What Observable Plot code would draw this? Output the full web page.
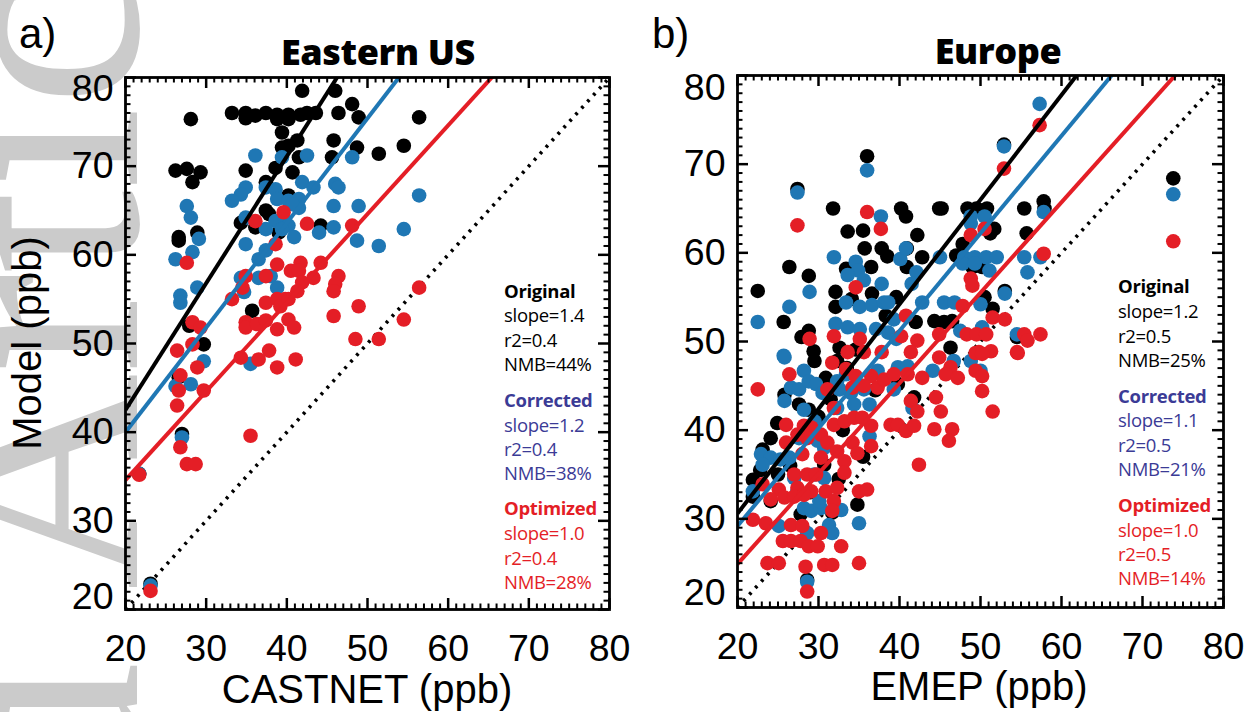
<!DOCTYPE html>
<html><head><meta charset="utf-8">
<script src="https://cdn.jsdelivr.net/npm/d3@7"></script>
<script src="https://cdn.jsdelivr.net/npm/@observablehq/plot@0.6"></script>
<style>
html,body{margin:0;padding:0;background:#fff;}
#page{position:relative;width:1247px;height:712px;overflow:hidden;}
#page svg{position:absolute;}
</style></head><body><div id="page"></div>
<script>
// ---------- DATA ----------
const axisDomain = [20, 80];
const majorTicks = [20, 30, 40, 50, 60, 70, 80];
const minorTicks = d3.range(20, 81, 1);
const panelLetters = ["a)", "b)"];
const panelTitles = ["Eastern US", "Europe"];
const xTitles = ["CASTNET (ppb)", "EMEP (ppb)"];
const yTitle = "Model (ppb)";
const seriesNames = ["Original", "Corrected", "Optimized"];

// Eastern US: [CASTNET obs, model]
const eusOriginal = [[41.9,78.5],[46.0,78.5],[28.1,75.3],[33.2,76.0],[34.9,76.0],[34.9,75.4],[36.1,75.7],[37.4,76.0],[38.8,75.8],[38.8,75.3],[40.2,75.8],[40.2,75.3],[41.7,75.8],[42.5,76.0],[43.6,76.0],[48.1,77.0],[46.4,76.0],[48.9,75.5],[56.4,75.5],[39.4,73.8],[45.8,72.9],[41.3,72.9],[39.4,72.1],[40.2,72.3],[41.5,71.0],[45.6,71.0],[48.7,72.1],[51.4,71.4],[54.5,72.3],[26.2,69.5],[27.6,69.7],[29.3,69.3],[28.3,68.2],[34.9,69.5],[38.6,69.8],[40.7,69.3],[37.4,68.2],[40.2,66.7],[37.4,65.0],[37.8,64.6],[34.3,63.6],[36.1,63.1],[44.2,63.3],[39.0,62.5],[26.6,62.0],[26.6,61.6],[28.9,62.5],[35.7,53.7],[27.9,52.0],[29.7,49.9],[26.6,46.2],[27.0,39.8],[21.7,35.3],[23.1,22.9]];
const eusCorrected = [[36.1,71.2],[39.4,71.0],[42.5,71.2],[48.1,71.0],[34.9,67.6],[34.3,66.8],[33.2,66.1],[37.4,67.6],[38.6,67.4],[41.9,68.2],[43.3,67.6],[46.0,68.0],[46.4,67.6],[27.6,65.5],[28.1,64.2],[38.8,66.3],[40.2,66.1],[41.5,66.3],[41.5,65.3],[40.7,65.7],[45.8,65.5],[48.9,65.5],[34.9,64.2],[38.6,63.8],[39.8,63.8],[40.2,63.3],[39.4,62.9],[37.4,62.9],[40.9,62.0],[44.0,62.5],[45.8,63.1],[29.1,61.8],[28.3,60.3],[26.2,59.5],[34.9,61.2],[48.7,61.6],[51.4,61.0],[54.5,62.9],[56.4,66.7],[36.5,59.5],[37.4,60.5],[34.3,57.4],[36.5,57.4],[38.0,57.6],[38.8,56.3],[28.9,56.3],[26.8,55.4],[26.8,54.6],[34.7,55.8],[29.7,48.0],[35.5,47.7],[26.2,45.2],[28.1,45.4],[27.0,39.4],[21.7,35.3],[23.1,22.7]];
const eusOptimized = [[39.6,64.8],[36.1,63.8],[42.5,63.5],[48.1,63.3],[27.6,59.1],[38.6,61.2],[38.8,58.9],[41.7,59.1],[40.5,58.2],[41.5,58.2],[44.2,59.1],[43.3,57.4],[46.4,57.6],[46.0,56.7],[45.8,55.9],[34.9,57.6],[37.4,57.6],[41.9,56.9],[41.3,55.9],[34.5,56.3],[33.2,55.0],[37.4,54.6],[38.8,55.0],[39.8,55.0],[39.2,54.2],[40.2,55.0],[48.9,54.2],[45.8,53.1],[56.4,56.3],[54.5,52.7],[34.9,52.4],[34.9,51.8],[36.3,52.2],[37.4,52.6],[40.2,52.7],[38.8,51.6],[40.9,51.8],[28.3,52.4],[29.3,51.8],[28.3,49.9],[26.4,49.2],[34.3,48.4],[36.5,48.2],[37.8,49.2],[41.1,48.2],[38.8,47.3],[28.9,47.3],[48.5,50.5],[51.4,50.5],[26.8,46.4],[26.6,44.7],[29.7,44.7],[26.4,43.0],[35.5,39.6],[26.8,38.3],[27.6,36.4],[28.7,36.4],[21.7,35.2],[23.1,22.1]];

// Europe: [EMEP obs, model]
const eurOriginal = [[36.0,70.9],[27.4,67.2],[31.8,65.0],[40.2,65.0],[40.8,64.1],[44.9,65.0],[45.2,65.0],[48.4,65.0],[49.5,65.0],[50.8,65.0],[55.4,65.0],[57.8,65.8],[57.9,65.0],[52.9,72.2],[73.8,68.4],[33.6,62.4],[35.5,62.5],[42.2,62.0],[37.8,60.5],[38.5,59.6],[35.7,60.5],[42.8,59.5],[40.9,60.5],[36.5,58.4],[33.4,58.2],[40.9,58.4],[47.0,59.7],[47.8,61.0],[51.7,62.7],[51.2,62.2],[55.7,62.2],[50.2,58.4],[49.0,58.4],[26.4,58.4],[28.8,57.4],[22.5,55.7],[25.7,52.2],[28.8,51.2],[27.9,50.5],[32.1,55.6],[32.1,53.9],[34.1,54.8],[36.6,55.4],[39.6,55.0],[38.3,52.9],[42.0,52.2],[44.3,52.3],[45.5,52.2],[46.5,52.3],[50.5,55.0],[51.5,53.7],[53.0,55.7],[46.3,49.3],[29.4,48.9],[32.6,49.3],[34.6,49.1],[54.5,50.5],[25.8,44.0],[27.6,42.9],[28.8,42.3],[24.9,40.8],[24.1,39.1],[23.1,37.8],[21.9,34.4],[21.9,32.5],[24.1,32.0],[34.8,31.6],[31.7,30.7],[30.7,36.1],[27.8,30.5],[41.8,43.7],[28.6,23.1],[32.3,47.8],[29.5,47.8],[30.9,45.9],[39.8,45.2],[30.0,41.5],[31.5,43.5],[33.0,40.0],[26.5,36.0],[29.0,33.0],[32.5,34.5],[35.5,37.0],[37.0,44.5],[33.5,47.0],[22.8,35.5],[25.0,35.0]];
const eurCorrected = [[57.3,76.8],[52.9,72.0],[36.0,69.3],[27.4,66.8],[37.7,64.1],[73.8,66.6],[48.8,64.1],[50.5,64.1],[57.8,64.6],[31.9,59.5],[34.6,59.0],[34.9,58.0],[33.6,57.5],[35.6,56.9],[37.8,56.5],[40.1,59.3],[40.8,60.5],[42.1,57.8],[41.5,56.5],[45.0,59.5],[48.0,59.5],[49.3,59.5],[50.7,59.5],[52.0,59.5],[47.8,58.8],[49.3,58.8],[51.1,58.0],[55.4,59.5],[57.4,59.5],[55.8,57.8],[48.8,63.3],[53.0,55.4],[28.9,55.6],[26.4,53.9],[22.5,52.2],[33.4,54.4],[35.1,53.9],[36.6,54.1],[38.1,54.4],[38.6,54.4],[42.8,54.4],[45.5,54.4],[46.8,54.4],[50.0,54.2],[39.3,52.5],[32.1,52.0],[33.6,51.6],[35.1,51.4],[37.1,51.4],[38.6,51.0],[39.6,50.3],[47.5,51.2],[50.2,51.6],[54.5,50.8],[25.7,48.4],[25.8,48.2],[26.6,44.8],[27.6,44.6],[28.2,46.7],[28.8,45.5],[29.7,45.2],[30.5,44.2],[25.8,43.3],[28.2,42.3],[33.4,46.3],[32.6,44.6],[34.0,44.2],[35.6,44.6],[37.3,46.7],[39.8,47.1],[39.3,44.6],[41.6,42.5],[41.0,47.2],[44.1,46.7],[46.7,47.8],[48.8,47.8],[50.0,46.7],[29.9,38.8],[30.7,38.0],[29.5,41.0],[29.1,39.9],[27.6,39.1],[22.9,37.3],[24.1,36.9],[25.3,36.7],[26.4,36.9],[23.1,36.1],[21.9,33.1],[32.3,45.5],[32.3,42.5],[34.4,42.9],[36.3,42.9],[36.3,39.3],[30.7,34.6],[27.4,33.1],[28.2,31.2],[29.1,30.9],[30.3,31.2],[31.3,29.3],[31.7,28.4],[32.8,31.0],[35.0,29.5],[25.1,29.2],[28.6,28.4],[28.6,22.9],[30.1,32.0],[29.5,35.0],[27.0,34.6]];
const eurOptimized = [[57.3,74.4],[52.9,69.5],[36.0,64.6],[27.4,63.1],[37.7,62.7],[73.8,61.3],[48.8,62.0],[50.5,62.7],[57.8,59.9],[48.8,57.1],[49.0,56.3],[34.6,56.1],[47.8,54.0],[40.8,52.9],[51.5,52.7],[53.0,52.5],[31.9,50.6],[35.1,50.3],[40.2,50.6],[42.2,50.1],[44.9,50.8],[48.3,50.8],[49.5,50.8],[50.7,50.8],[55.4,50.8],[55.8,50.1],[57.4,50.8],[28.9,50.3],[33.6,48.8],[35.6,48.8],[37.8,48.8],[41.4,48.8],[44.9,48.2],[49.8,48.8],[51.3,48.9],[54.5,48.8],[22.5,44.6],[26.4,46.3],[31.7,47.6],[33.4,46.9],[34.6,46.1],[36.5,46.1],[31.1,44.6],[34.2,44.8],[35.6,45.0],[37.3,44.8],[38.1,45.7],[39.3,46.3],[41.0,46.3],[42.8,45.9],[41.4,43.3],[42.2,42.1],[44.5,43.7],[45.1,42.1],[46.3,47.1],[45.7,46.3],[47.2,45.9],[49.4,46.7],[50.2,46.1],[50.2,44.4],[51.5,42.1],[46.5,40.1],[46.1,38.8],[44.3,40.1],[42.4,36.1],[38.9,40.6],[39.8,40.6],[40.8,39.9],[41.8,40.5],[31.9,42.5],[31.9,40.6],[33.2,41.0],[34.4,41.4],[35.4,41.4],[36.5,40.5],[28.2,40.5],[29.1,40.3],[28.6,39.1],[27.4,39.5],[30.3,39.5],[31.1,38.6],[26.0,38.6],[26.0,40.6],[28.0,37.3],[30.3,36.9],[32.3,37.6],[33.2,36.5],[34.2,38.6],[34.8,37.4],[36.5,38.2],[27.0,35.0],[28.6,35.0],[29.7,35.0],[33.2,35.2],[23.1,33.9],[25.1,33.3],[27.4,33.5],[29.1,33.1],[24.1,32.2],[25.8,32.4],[27.0,32.5],[28.2,32.7],[30.9,33.1],[32.3,33.5],[31.9,32.0],[31.7,30.9],[35.0,33.1],[36.0,33.3],[21.9,29.9],[23.5,29.5],[26.6,29.3],[28.0,29.2],[30.3,28.4],[25.6,27.5],[26.6,27.5],[27.8,27.5],[28.8,26.9],[29.9,26.9],[32.8,26.9],[23.7,25.0],[25.1,25.0],[28.4,24.6],[30.7,24.8],[31.7,24.8],[35.0,25.0],[28.6,21.8],[54.6,48.7],[49.4,48.7],[50.2,48.6]];

// Regression fits: value at x = 20 and slope
const eusFitStart = [42.5, 40.0, 34.6];
const eusFitSlope = [1.43, 1.18, 1.00];
const eurFitStart = [30.6, 29.2, 24.9];
const eurFitSlope = [1.18, 1.10, 1.02];

// Statistics annotations
const eusStats = [["slope=1.4","r2=0.4","NMB=44%"],["slope=1.2","r2=0.4","NMB=38%"],["slope=1.0","r2=0.4","NMB=28%"]];
const eurStats = [["slope=1.2","r2=0.5","NMB=25%"],["slope=1.1","r2=0.5","NMB=21%"],["slope=1.0","r2=0.5","NMB=14%"]];

// ---------- STYLE ----------
const dotColors = ["#000000", "#1f77b4", "#e41e26"];
const headColors = ["#000000", "#3b3b96", "#e41e26"];
const sans = "'Liberation Sans', Arial, Helvetica, sans-serif";
const annoFont = "'Open Sans', 'Noto Sans', sans-serif";

const page = document.getElementById("page");

// watermark
const wm = d3.select(page).append("svg").attr("width",1247).attr("height",712).style("left","0px").style("top","0px");
wm.append("text").attr("transform","translate(137,590) rotate(-90)").attr("font-family","'Liberation Serif', serif")
  .attr("font-size",300).attr("fill","#cbcbcb").text("Article");
wm.append("text").attr("transform","translate(137,662) rotate(-90)").attr("text-anchor","end").attr("font-family","'Liberation Serif', serif")
  .attr("font-size",300).attr("fill","#cbcbcb").text("Accepted");

function makePanel(cfg) {
  const {W, H, mL, mT, mR, mB, series, starts, slopes, yTopDy, yBotDy} = cfg;
  const innerW = W - mL - mR, innerH = H - mT - mB;
  const fits = starts.map((s, i) => ({i, y1: s, y2: s + slopes[i] * (axisDomain[1] - axisDomain[0])}));
  const minor = minorTicks.filter(t => !majorTicks.includes(t));
  const axText = {tickSize: 0, fontSize: 37.5, label: null};
  return Plot.plot({
    width: W, height: H, marginLeft: mL, marginTop: mT, marginRight: mR, marginBottom: mB,
    x: {domain: axisDomain}, y: {domain: axisDomain},
    style: {background: "transparent", overflow: "visible", fontFamily: sans, color: "#000"},
    marks: [
      Plot.link([0], {x1: () => axisDomain[0], y1: () => axisDomain[0], x2: () => axisDomain[1], y2: () => axisDomain[1], stroke: "#000", strokeWidth: 3.6, strokeDasharray: "2.8,6", strokeLinecap: "butt"}),
      ...series.map((s, i) => Plot.dot(s, {x: d => d[0], y: d => d[1], r: 7.3, fill: dotColors[i], stroke: null})),
      Plot.link(fits, {x1: () => axisDomain[0], x2: () => axisDomain[1], y1: "y1", y2: "y2", stroke: d => dotColors[d.i], strokeWidth: 4, clip: true}),
      // inward ticks, four sides
      Plot.tickX(minor, {x: d => d, insetTop: innerH - 5.5, strokeWidth: 2}),
      Plot.tickX(minor, {x: d => d, insetBottom: innerH - 5.5, strokeWidth: 2}),
      Plot.tickX(majorTicks, {x: d => d, insetTop: innerH - 11, strokeWidth: 2.5}),
      Plot.tickX(majorTicks, {x: d => d, insetBottom: innerH - 11, strokeWidth: 2.5}),
      Plot.tickY(minor, {y: d => d, insetRight: innerW - 5.5, strokeWidth: 2}),
      Plot.tickY(minor, {y: d => d, insetLeft: innerW - 5.5, strokeWidth: 2}),
      Plot.tickY(majorTicks, {y: d => d, insetRight: innerW - 11, strokeWidth: 2.5}),
      Plot.tickY(majorTicks, {y: d => d, insetLeft: innerW - 11, strokeWidth: 2.5}),
      Plot.frame({stroke: "#000", strokeWidth: 2.8}),
      Plot.axisX(majorTicks, {...axText, anchor: "bottom", tickPadding: 25}),
      Plot.axisY(majorTicks.slice(1, -1), {...axText, anchor: "left", tickPadding: 12}),
      Plot.axisY(majorTicks.slice(-1), {...axText, anchor: "left", tickPadding: 12, dy: yTopDy}),
      Plot.axisY(majorTicks.slice(0, 1), {...axText, anchor: "left", tickPadding: 12, dy: yBotDy})
    ]
  });
}

const pA = makePanel({W: 640, H: 712, mL: 125, mT: 77, mR: 31, mB: 103, series: [eusOriginal, eusCorrected, eusOptimized], starts: eusFitStart, slopes: eusFitSlope, yTopDy: 11, yBotDy: -13});
pA.style.left = "0px"; pA.style.top = "0px";
page.appendChild(pA);
const pB = makePanel({W: 627, H: 712, mL: 117, mT: 75, mR: 24, mB: 105, series: [eurOriginal, eurCorrected, eurOptimized], starts: eurFitStart, slopes: eurFitSlope, yTopDy: 12, yBotDy: -15});
pB.style.left = "620px"; pB.style.top = "0px";
page.appendChild(pB);

// overlay text
const ov = d3.select(page).append("svg").attr("width",1247).attr("height",712).style("left","0px").style("top","0px").style("pointer-events","none");
function txt(x, y, s, o = {}) {
  const t = ov.append("text").attr("x", x).attr("y", y).text(s)
    .attr("font-family", o.family || sans).attr("font-size", o.size || 40)
    .attr("font-weight", o.weight || 400).attr("fill", o.fill || "#000")
    .attr("text-anchor", o.anchor || "start");
  if (o.ls) t.attr("letter-spacing", o.ls);
  if (o.rotate) t.attr("transform", `rotate(-90 ${x} ${y})`);
  return t;
}
txt(19, 48, panelLetters[0], {size: 42});
txt(652, 48, panelLetters[1], {size: 42});
txt(378, 65, panelTitles[0], {size: 36, weight: 800, family: annoFont, anchor: "middle", ls: -0.4});
txt(998, 64, panelTitles[1], {size: 36, weight: 800, family: annoFont, anchor: "middle", ls: -0.4});
txt(367, 703, xTitles[0], {size: 40, anchor: "middle"});
txt(979, 700, xTitles[1], {size: 40, anchor: "middle"});
txt(41, 343, yTitle, {size: 40, anchor: "middle", rotate: true});

function stats(x, baselines, st) {
  seriesNames.forEach((name, i) => {
    const b = baselines[i];
    txt(x, b[0], name, {size: 18.5, weight: 700, family: annoFont, fill: headColors[i], ls: -0.3});
    st[i].forEach((line, j) => txt(x, b[j + 1], line, {size: 18.5, family: annoFont, fill: headColors[i], ls: -0.3}));
  });
}
stats(504, [[298, 322, 347, 371], [407, 432, 456, 480], [515, 540, 565, 589]], eusStats);
stats(1118, [[293, 318, 343, 367], [403, 427, 452, 476], [512, 537, 561, 585]], eurStats);
</script></body></html>
